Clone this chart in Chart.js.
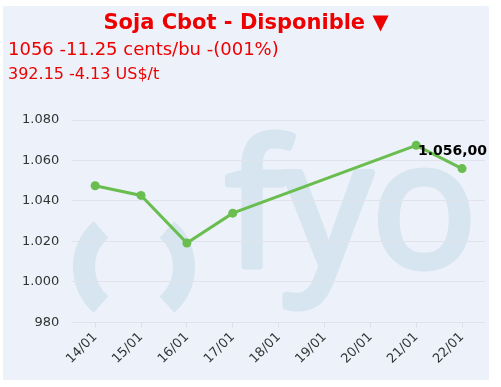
<!DOCTYPE html>
<html>
<head>
<meta charset="utf-8">
<script src="https://cdn.jsdelivr.net/npm/chart.js@4"></script>
<style>
    body { margin: 0; background: #fff; width: 501px; height: 387px; overflow: hidden; font-family: "DejaVu Sans", Verdana, sans-serif; }
    #panel { position: absolute; left: 3px; top: 6px; width: 486px; height: 374px; background: #edf1f9; border-radius: 2px; }
    .hd { position: absolute; z-index: 2; color: #ee0000; white-space: nowrap; }
    #title { left: 3px; width: 486px; top: 10px; text-align: center; font-weight: bold; font-size: 21px; line-height: 24px; }
    #price { left: 8px; top: 40px; font-size: 18px; line-height: 18px; }
    #price2 { left: 8px; top: 66px; font-size: 16px; line-height: 16px; }
    #wrap { position: absolute; left: 0; top: 0; width: 501px; height: 387px; z-index: 1; }
</style>
</head>
<body>
<div id="panel"></div>
<div class="hd" id="title">Soja Cbot - Disponible ▼</div>
<div class="hd" id="price">1056 -11.25 cents/bu -(001%)</div>
<div class="hd" id="price2">392.15 -4.13 US$/t</div>
<div id="wrap"><canvas id="price-chart"></canvas></div>
<script>
const labels = ['14/01', '15/01', '16/01', '17/01', '18/01', '19/01', '20/01', '21/01', '22/01'];
const prices = [1047.5, 1042.75, 1019.25, 1034, null, null, null, 1067.5, 1056];
const yTicks = [980, 1000, 1020, 1040, 1060, 1080];

// number in es format: 1.056,00
function formatEs(v, decimals) {
    const parts = v.toFixed(decimals).split('.');
    parts[0] = parts[0].replace(/\B(?=(\d{3})+(?!\d))/g, '.');
    return parts.join(',');
}

// background logo "( ) fyo"
const watermark = {
    id: 'watermark',
    beforeDraw(chart) {
        const c = chart.ctx;
        c.save();
        c.strokeStyle = '#d6e5ef';
        c.fillStyle = '#d6e5ef';
        c.lineWidth = 22;
        c.beginPath();
        c.arc(134, 267, 50, Math.PI - 0.85, Math.PI + 0.85);
        c.stroke();
        c.beginPath();
        c.arc(134, 267, 50, -0.85, 0.85);
        c.stroke();
        c.font = '174px "Open Sans"';
        c.textBaseline = 'alphabetic';
        c.lineWidth = 7;
        c.lineJoin = 'round';
        c.fillText('fyo', 226, 266);
        c.strokeText('fyo', 226, 266);
        c.restore();
    }
};

// last value label above last point
const lastLabel = {
    id: 'lastLabel',
    afterDatasetsDraw(chart) {
        const meta = chart.getDatasetMeta(0);
        const data = chart.data.datasets[0].data;
        let i = data.length - 1;
        while (i >= 0 && data[i] == null) i--;
        if (i < 0) return;
        const pt = meta.data[i];
        const c = chart.ctx;
        c.save();
        c.font = 'bold 14px "DejaVu Sans"';
        c.fillStyle = '#000';
        c.textBaseline = 'middle';
        const text = formatEs(data[i], 2);
        const w = c.measureText(text).width;
        let x = pt.x - w / 2;
        if (x + w > chart.chartArea.right + 2) x = chart.chartArea.right + 2 - w;
        c.fillText(text, x, pt.y - 17);
        c.restore();
    }
};

document.addEventListener('DOMContentLoaded', function () {
    const ctx = document.getElementById('price-chart');
    new Chart(ctx, {
        type: 'line',
        data: {
            labels: labels,
            datasets: [{
                label: 'Soja Cbot',
                data: prices,
                borderColor: '#6abd4f',
                backgroundColor: '#6abd4f',
                borderWidth: 3,
                pointRadius: 4.5,
                pointBorderWidth: 0,
                spanGaps: true,
                tension: 0
            }]
        },
        options: {
            responsive: true,
            maintainAspectRatio: false,
            animation: false,
            layout: {
                padding: { left: 9, right: 16, top: 120, bottom: 18 }
            },
            scales: {
                x: {
                    offset: true,
                    grid: {
                        drawOnChartArea: false,
                        tickLength: 5,
                        color: '#dcdfe6'
                    },
                    border: { display: false },
                    ticks: {
                        color: '#333',
                        font: { family: 'DejaVu Sans', size: 13 },
                        minRotation: 45,
                        maxRotation: 45,
                        autoSkip: false,
                        padding: 2
                    }
                },
                y: {
                    min: 980,
                    max: 1080,
                    afterBuildTicks: axis => { axis.ticks = yTicks.map(v => ({ value: v })); },
                    grid: {
                        drawTicks: false,
                        color: '#e0e3ea'
                    },
                    border: { display: false },
                    ticks: {
                        color: '#333',
                        padding: 13,
                        font: { family: 'DejaVu Sans', size: 13 },
                        callback: v => formatEs(v, 0)
                    }
                }
            },
            plugins: {
                legend: { display: false },
                tooltip: { enabled: false }
            }
        },
        plugins: [watermark, lastLabel]
    });
});
</script>
</body>
</html>
